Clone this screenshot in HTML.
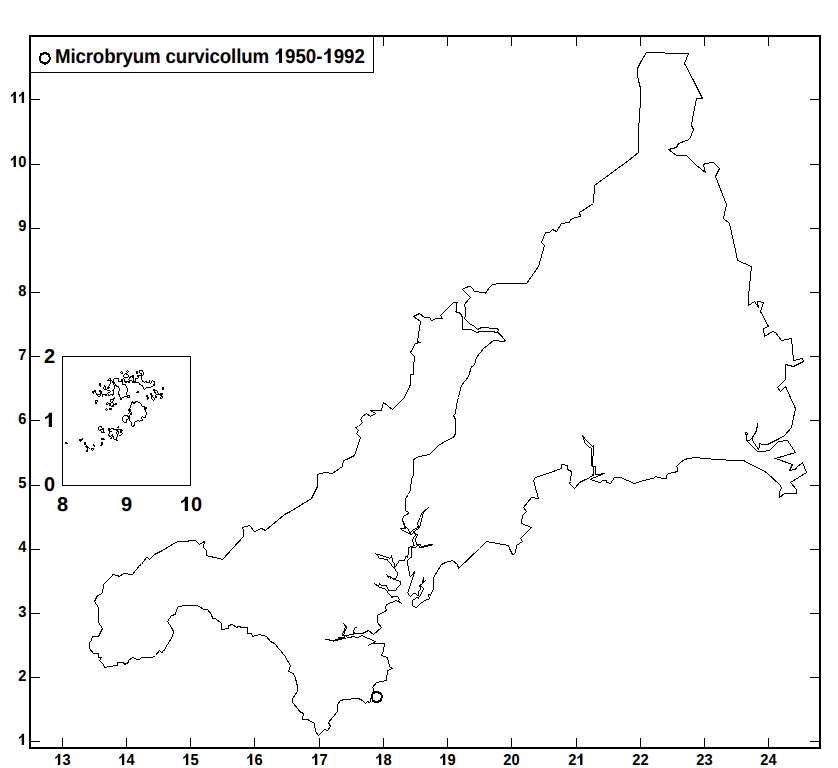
<!DOCTYPE html>
<html><head><meta charset="utf-8"><style>
html,body{margin:0;padding:0;background:#fff;width:838px;height:768px;overflow:hidden}
svg{position:absolute;left:0;top:0}
text{font-family:"Liberation Sans",sans-serif;font-weight:bold;fill:#000;text-rendering:geometricPrecision}
</style></head><body>
<svg width="838" height="768" viewBox="0 0 838 768">
<rect x="29" y="35" width="792" height="2"/><rect x="29" y="747" width="792" height="2"/><rect x="29" y="35" width="2" height="714"/><rect x="819" y="35" width="2" height="714"/><path d="M62.5 738V747 M62.5 37V46 M126.5 738V747 M126.5 37V46 M190.5 738V747 M190.5 37V46 M254.5 738V747 M254.5 37V46 M319.5 738V747 M319.5 37V46 M383.5 738V747 M383.5 37V46 M447.5 738V747 M447.5 37V46 M511.5 738V747 M511.5 37V46 M576.5 738V747 M576.5 37V46 M640.5 738V747 M640.5 37V46 M704.5 738V747 M704.5 37V46 M768.5 738V747 M768.5 37V46 M31 741.5H40 M810 741.5H819 M31 677.5H40 M810 677.5H819 M31 613.5H40 M810 613.5H819 M31 549.5H40 M810 549.5H819 M31 485.5H40 M810 485.5H819 M31 420.5H40 M810 420.5H819 M31 356.5H40 M810 356.5H819 M31 292.5H40 M810 292.5H819 M31 228.5H40 M810 228.5H819 M31 164.5H40 M810 164.5H819 M31 99.5H40 M810 99.5H819" stroke="#000" stroke-width="1" fill="none" shape-rendering="crispEdges"/>
<rect x="30.5" y="36.5" width="343" height="36" fill="#fff" stroke="#000" stroke-width="1" shape-rendering="crispEdges"/>
<rect x="62.5" y="356.5" width="128" height="129" fill="none" stroke="#000" stroke-width="1" shape-rendering="crispEdges"/>
<text transform="translate(62.50 765.00) scale(1 1.08)" style="font-size:14.67px">3</text><text transform="translate(126.50 765.00) scale(1 1.08)" style="font-size:14.67px">4</text><text transform="translate(190.50 765.00) scale(1 1.08)" style="font-size:14.67px">5</text><text transform="translate(254.50 765.00) scale(1 1.08)" style="font-size:14.67px">6</text><text transform="translate(319.50 765.00) scale(1 1.08)" style="font-size:14.67px">7</text><text transform="translate(383.50 765.00) scale(1 1.08)" style="font-size:14.67px">8</text><text transform="translate(447.50 765.00) scale(1 1.08)" style="font-size:14.67px">9</text><text transform="translate(503.34 765.00) scale(1 1.08)" style="font-size:14.67px">2</text><text transform="translate(511.50 765.00) scale(1 1.08)" style="font-size:14.67px">0</text><text transform="translate(568.34 765.00) scale(1 1.08)" style="font-size:14.67px">2</text><text transform="translate(632.34 765.00) scale(1 1.08)" style="font-size:14.67px">2</text><text transform="translate(640.50 765.00) scale(1 1.08)" style="font-size:14.67px">2</text><text transform="translate(696.34 765.00) scale(1 1.08)" style="font-size:14.67px">2</text><text transform="translate(704.50 765.00) scale(1 1.08)" style="font-size:14.67px">3</text><text transform="translate(760.34 765.00) scale(1 1.08)" style="font-size:14.67px">2</text><text transform="translate(768.50 765.00) scale(1 1.08)" style="font-size:14.67px">4</text><text transform="translate(18.14 681.00) scale(1 1.08)" style="font-size:14.67px">2</text><text transform="translate(18.14 617.00) scale(1 1.08)" style="font-size:14.67px">3</text><text transform="translate(18.14 552.00) scale(1 1.08)" style="font-size:14.67px">4</text><text transform="translate(18.14 488.00) scale(1 1.08)" style="font-size:14.67px">5</text><text transform="translate(18.14 424.00) scale(1 1.08)" style="font-size:14.67px">6</text><text transform="translate(18.14 360.00) scale(1 1.08)" style="font-size:14.67px">7</text><text transform="translate(18.14 296.00) scale(1 1.08)" style="font-size:14.67px">8</text><text transform="translate(18.14 231.00) scale(1 1.08)" style="font-size:14.67px">9</text><text transform="translate(18.14 167.00) scale(1 1.08)" style="font-size:14.67px">0</text><text transform="translate(43.88 363.00) scale(1 1.0)" style="font-size:20px">2</text><text transform="translate(43.88 491.00) scale(1 1.0)" style="font-size:20px">0</text><text transform="translate(56.94 511.00) scale(1 1.0)" style="font-size:20px">8</text><text transform="translate(120.94 511.00) scale(1 1.0)" style="font-size:20px">9</text><text transform="translate(191.00 511.00) scale(1 1.0)" style="font-size:20px">0</text><text transform="translate(55 63) scale(1 1.0769)" style="font-size:18.67px" textLength="214.1" lengthAdjust="spacing">Microbryum curvicollum</text><text transform="translate(285.05 63) scale(1 1.0769)" style="font-size:18.67px">950-</text><text transform="translate(333.65 63) scale(1 1.0769)" style="font-size:18.67px">992</text>
<path d="M60.28 765.00 57.94 765.00 57.94 757.08 56.84 758.03 55.22 758.90 55.22 757.08 56.84 756.19 57.57 755.34 58.23 753.66 60.28 753.66Z M124.28 765.00 121.94 765.00 121.94 757.08 120.84 758.03 119.22 758.90 119.22 757.08 120.84 756.19 121.57 755.34 122.23 753.66 124.28 753.66Z M188.28 765.00 185.94 765.00 185.94 757.08 184.84 758.03 183.22 758.90 183.22 757.08 184.84 756.19 185.57 755.34 186.23 753.66 188.28 753.66Z M252.28 765.00 249.94 765.00 249.94 757.08 248.84 758.03 247.22 758.90 247.22 757.08 248.84 756.19 249.57 755.34 250.23 753.66 252.28 753.66Z M317.28 765.00 314.94 765.00 314.94 757.08 313.84 758.03 312.22 758.90 312.22 757.08 313.84 756.19 314.57 755.34 315.23 753.66 317.28 753.66Z M381.28 765.00 378.94 765.00 378.94 757.08 377.84 758.03 376.22 758.90 376.22 757.08 377.84 756.19 378.57 755.34 379.23 753.66 381.28 753.66Z M445.28 765.00 442.94 765.00 442.94 757.08 441.84 758.03 440.22 758.90 440.22 757.08 441.84 756.19 442.57 755.34 443.23 753.66 445.28 753.66Z M582.44 765.00 580.09 765.00 580.09 757.08 578.99 758.03 577.38 758.90 577.38 757.08 578.99 756.19 579.73 755.34 580.39 753.66 582.44 753.66Z M24.08 745.00 21.74 745.00 21.74 737.08 20.64 738.03 19.02 738.90 19.02 737.08 20.64 736.19 21.37 735.34 22.03 733.66 24.08 733.66Z M15.93 167.00 13.58 167.00 13.58 159.08 12.48 160.03 10.87 160.90 10.87 159.08 12.48 158.19 13.21 157.34 13.87 155.66 15.93 155.66Z M15.93 103.00 13.58 103.00 13.58 95.08 12.48 96.03 10.87 96.90 10.87 95.08 12.48 94.19 13.21 93.34 13.87 91.66 15.93 91.66Z M24.08 103.00 21.74 103.00 21.74 95.08 20.64 96.03 19.02 96.90 19.02 95.08 20.64 94.19 21.37 93.34 22.03 91.66 24.08 91.66Z M51.98 427.00 48.78 427.00 48.78 417.00 47.28 418.20 45.08 419.30 45.08 417.00 47.28 415.88 48.28 414.80 49.18 412.68 51.98 412.68Z M187.98 511.00 184.78 511.00 184.78 501.00 183.28 502.20 181.08 503.30 181.08 501.00 183.28 499.88 184.28 498.80 185.18 496.68 187.98 496.68Z M282.06 63.00 279.07 63.00 279.07 52.95 277.67 54.15 275.62 55.26 275.62 52.95 277.67 51.82 278.61 50.74 279.45 48.60 282.06 48.60Z M330.66 63.00 327.67 63.00 327.67 52.95 326.27 54.15 324.22 55.26 324.22 52.95 326.27 51.82 327.21 50.74 328.05 48.60 330.66 48.60Z" fill="#000"/>
<g fill="none" stroke="#000" stroke-width="1" shape-rendering="crispEdges">
<path d="M646.5 52.5 664.5 52.5 665.5 53.5 688.5 53.5 684.5 63.5 693.5 80.5 702.5 98.5 696.5 98.5 693.5 113.5 691.5 125.5 693.5 129.5 689.5 139.5 678.5 143.5 676.5 147.5 668.5 149.5 676.5 155.5 686.5 155.5 696.5 165.5 705.5 172.5 703.5 164.5 705.5 163.5 713.5 162.5 719.5 168.5 715.5 176.5 726.5 204.5 723.5 218.5 729.5 223.5 735.5 250.5 737.5 260.5 751.5 266.5 748.5 296.5 748.5 305.5 754.5 301.5 758.5 307.5 757.5 301.5 763.5 302.5 760.5 311.5 768.5 326.5 763.5 328.5 764.5 336.5 772.5 331.5 775.5 332.5 781.5 340.5 791.5 338.5 793.5 360.5 802.5 358.5 803.5 361.5 793.5 366.5 785.5 364.5 785.5 379.5 777.5 387.5 780.5 391.5 785.5 386.5 795.5 408.5 791.5 427.5 784.5 435.5 779.5 438.5 767.5 444.5 762.5 444.5 759.5 443.5 759.5 446.5 758.5 449.5 752.5 440.5 752.5 436.5 755.5 433.5 756.5 430.5 757.5 426.5 757.5 423.5 756.5 430.5 754.5 434.5 752.5 437.5 749.5 440.5 746.5 440.5 746.5 435.5 745.5 433.5 745.5 432.5 746.5 432.5 747.5 433.5 747.5 434.5 746.5 435.5 746.5 440.5 757.5 451.5 762.5 451.5 769.5 450.5 778.5 441.5 787.5 440.5 795.5 452.5 775.5 458.5 792.5 464.5 789.5 470.5 795.5 469.5 796.5 467.5 802.5 462.5 806.5 472.5 790.5 482.5 796.5 489.5 796.5 493.5 784.5 493.5 779.5 497.5 779.5 491.5 781.5 488.5 780.5 485.5 766.5 472.5 743.5 460.5 732.5 460.5 718.5 459.5 703.5 458.5 695.5 457.5 688.5 458.5 684.5 459.5 680.5 462.5 676.5 466.5 677.5 467.5 677.5 471.5 673.5 472.5 668.5 473.5 666.5 475.5 666.5 478.5 663.5 478.5 658.5 477.5 655.5 476.5 653.5 478.5 647.5 479.5 640.5 481.5 634.5 483.5 620.5 477.5 614.5 477.5 610.5 483.5 607.5 480.5 603.5 480.5 599.5 482.5 591.5 479.5 599.5 475.5 604.5 473.5 596.5 474.5 595.5 466.5 593.5 465.5 593.5 455.5 593.5 445.5 592.5 444.5 583.5 435.5 584.5 441.5 591.5 447.5 591.5 457.5 591.5 465.5 593.5 469.5 593.5 474.5 589.5 477.5 579.5 482.5 575.5 487.5 574.5 488.5 569.5 483.5 570.5 481.5 571.5 471.5 567.5 469.5 567.5 465.5 561.5 464.5 561.5 468.5 550.5 472.5 535.5 477.5 533.5 480.5 538.5 498.5 531.5 497.5 523.5 507.5 526.5 511.5 522.5 515.5 521.5 523.5 531.5 527.5 520.5 538.5 522.5 541.5 516.5 545.5 515.5 553.5 512.5 554.5 509.5 548.5 508.5 545.5 486.5 541.5 479.5 548.5 458.5 568.5 457.5 564.5 452.5 560.5 445.5 562.5 441.5 564.5 433.5 577.5 433.5 589.5 429.5 596.5 428.5 599.5 421.5 602.5 416.5 607.5 412.5 605.5 412.5 600.5 413.5 599.5 418.5 597.5 420.5 594.5 423.5 588.5 422.5 584.5 425.5 580.5 423.5 581.5 423.5 577.5 423.5 581.5 420.5 585.5 420.5 588.5 418.5 591.5 418.5 595.5 416.5 593.5 413.5 593.5 410.5 596.5 407.5 592.5 412.5 574.5 414.5 571.5 411.5 576.5 409.5 575.5 409.5 570.5 407.5 565.5 407.5 559.5 411.5 557.5 411.5 555.5 412.5 549.5 413.5 546.5 412.5 542.5 412.5 539.5 413.5 536.5 414.5 531.5 M411.5 555.5 412.5 551.5 411.5 547.5 414.5 547.5 420.5 546.5 423.5 546.5 427.5 545.5 432.5 544.5 423.5 546.5 420.5 546.5 418.5 544.5 416.5 544.5 415.5 541.5 415.5 537.5 416.5 534.5 414.5 530.5 416.5 528.5 418.5 526.5 417.5 524.5 417.5 522.5 420.5 517.5 421.5 513.5 428.5 507.5 423.5 512.5 422.5 515.5 421.5 520.5 420.5 524.5 418.5 527.5 415.5 529.5 413.5 530.5 412.5 531.5 410.5 534.5 408.5 533.5 402.5 530.5 400.5 528.5 405.5 527.5 404.5 524.5 402.5 520.5 402.5 518.5 404.5 515.5 407.5 514.5 408.5 512.5 405.5 510.5 405.5 505.5 405.5 498.5 408.5 494.5 410.5 489.5 411.5 479.5 413.5 474.5 413.5 467.5 413.5 460.5 414.5 458.5 419.5 456.5 429.5 454.5 438.5 445.5 446.5 440.5 453.5 437.5 455.5 433.5 455.5 419.5 453.5 415.5 455.5 413.5 456.5 405.5 457.5 400.5 458.5 397.5 461.5 385.5 468.5 376.5 471.5 366.5 474.5 365.5 476.5 357.5 483.5 348.5 487.5 345.5 493.5 340.5 503.5 341.5 505.5 340.5 497.5 331.5 498.5 330.5 497.5 328.5 489.5 328.5 488.5 327.5 481.5 327.5 477.5 329.5 474.5 326.5 469.5 323.5 464.5 318.5 464.5 317.5 465.5 316.5 465.5 307.5 464.5 306.5 464.5 304.5 M505.5 340.5 497.5 332.5 495.5 332.5 493.5 331.5 480.5 331.5 476.5 332.5 471.5 329.5 462.5 329.5 462.5 317.5 461.5 315.5 460.5 313.5 458.5 312.5 456.5 312.5 455.5 311.5 456.5 311.5 456.5 303.5 457.5 302.5 453.5 302.5 452.5 303.5 440.5 315.5 442.5 318.5 436.5 318.5 431.5 320.5 429.5 317.5 424.5 317.5 419.5 313.5 413.5 316.5 420.5 321.5 417.5 341.5 419.5 342.5 415.5 343.5 410.5 352.5 414.5 356.5 413.5 368.5 413.5 374.5 410.5 374.5 410.5 384.5 404.5 397.5 399.5 402.5 392.5 409.5 383.5 402.5 381.5 410.5 370.5 410.5 375.5 413.5 370.5 416.5 366.5 413.5 362.5 416.5 360.5 419.5 362.5 422.5 358.5 426.5 355.5 427.5 358.5 430.5 356.5 433.5 360.5 437.5 354.5 455.5 346.5 459.5 343.5 460.5 342.5 466.5 332.5 473.5 324.5 472.5 317.5 474.5 317.5 486.5 311.5 498.5 290.5 511.5 284.5 514.5 265.5 530.5 261.5 528.5 254.5 531.5 249.5 525.5 242.5 527.5 243.5 530.5 243.5 536.5 222.5 559.5 215.5 557.5 209.5 556.5 206.5 555.5 206.5 550.5 203.5 547.5 204.5 541.5 199.5 544.5 195.5 540.5 189.5 540.5 187.5 541.5 178.5 541.5 175.5 542.5 162.5 550.5 154.5 554.5 149.5 559.5 147.5 557.5 146.5 557.5 143.5 561.5 141.5 564.5 139.5 565.5 132.5 574.5 123.5 573.5 119.5 576.5 117.5 575.5 112.5 574.5 112.5 575.5 103.5 584.5 102.5 593.5 97.5 595.5 94.5 601.5 98.5 607.5 98.5 612.5 98.5 622.5 102.5 628.5 98.5 636.5 92.5 636.5 91.5 640.5 89.5 642.5 89.5 648.5 93.5 653.5 98.5 653.5 98.5 657.5 101.5 657.5 99.5 660.5 103.5 664.5 104.5 667.5 109.5 666.5 117.5 665.5 117.5 662.5 123.5 662.5 124.5 664.5 128.5 662.5 128.5 660.5 132.5 657.5 137.5 659.5 139.5 659.5 141.5 657.5 144.5 657.5 148.5 657.5 152.5 657.5 155.5 655.5 159.5 650.5 161.5 652.5 163.5 651.5 167.5 644.5 172.5 636.5 173.5 631.5 171.5 627.5 167.5 621.5 171.5 615.5 175.5 614.5 176.5 609.5 178.5 606.5 186.5 605.5 193.5 605.5 196.5 605.5 199.5 606.5 203.5 609.5 207.5 609.5 211.5 614.5 212.5 618.5 215.5 618.5 221.5 623.5 221.5 629.5 228.5 628.5 228.5 625.5 232.5 624.5 236.5 627.5 238.5 626.5 242.5 627.5 247.5 627.5 247.5 633.5 251.5 633.5 252.5 636.5 259.5 634.5 266.5 636.5 270.5 641.5 274.5 643.5 279.5 649.5 284.5 655.5 290.5 665.5 288.5 671.5 293.5 673.5 295.5 678.5 297.5 686.5 297.5 691.5 292.5 698.5 292.5 702.5 298.5 709.5 299.5 711.5 303.5 713.5 302.5 719.5 307.5 719.5 314.5 723.5 315.5 731.5 318.5 735.5 322.5 731.5 324.5 729.5 327.5 730.5 330.5 726.5 328.5 722.5 337.5 711.5 337.5 704.5 340.5 700.5 344.5 699.5 358.5 698.5 362.5 700.5 365.5 703.5 367.5 701.5 369.5 702.5 370.5 701.5 370.5 699.5 371.5 696.5 373.5 691.5 373.5 688.5 372.5 687.5 376.5 682.5 386.5 680.5 387.5 670.5 392.5 668.5 389.5 666.5 387.5 657.5 381.5 655.5 383.5 650.5 384.5 643.5 371.5 643.5 368.5 645.5 375.5 641.5 361.5 635.5 358.5 637.5 350.5 636.5 342.5 637.5 333.5 640.5 329.5 639.5 325.5 639.5 333.5 640.5 339.5 638.5 345.5 635.5 352.5 634.5 354.5 633.5 362.5 633.5 368.5 630.5 373.5 634.5 381.5 627.5 377.5 622.5 377.5 615.5 386.5 610.5 385.5 607.5 386.5 604.5 396.5 600.5 401.5 603.5 398.5 600.5 397.5 596.5 394.5 596.5 391.5 596.5 387.5 593.5 385.5 589.5 379.5 586.5 374.5 583.5 379.5 583.5 385.5 586.5 389.5 590.5 395.5 589.5 400.5 584.5 400.5 581.5 395.5 578.5 393.5 578.5 386.5 574.5 396.5 578.5 397.5 575.5 397.5 572.5 394.5 567.5 389.5 560.5 391.5 555.5 392.5 561.5 394.5 567.5 387.5 559.5 378.5 558.5 375.5 553.5 379.5 555.5 389.5 557.5 395.5 566.5 399.5 560.5 405.5 560.5 406.5 558.5 407.5 556.5 408.5 555.5 408.5 547.5 410.5 546.5 413.5 545.5 412.5 542.5 412.5 539.5 412.5 537.5 410.5 534.5 M464.5 306.5 464.5 304.5 468.5 299.5 470.5 297.5 462.5 289.5 463.5 288.5 466.5 287.5 468.5 286.5 470.5 286.5 472.5 288.5 474.5 291.5 478.5 291.5 479.5 292.5 484.5 292.5 485.5 293.5 486.5 291.5 489.5 287.5 492.5 284.5 500.5 283.5 526.5 283.5 538.5 266.5 544.5 245.5 541.5 242.5 545.5 232.5 549.5 232.5 552.5 229.5 556.5 231.5 561.5 223.5 569.5 222.5 570.5 219.5 575.5 217.5 580.5 216.5 579.5 212.5 593.5 203.5 594.5 185.5 628.5 160.5 638.5 152.5 638.5 130.5 640.5 100.5 640.5 88.5 638.5 80.5 637.5 74.5 637.5 68.5 640.5 62.5 646.5 52.5 M354.5 633.5 353.5 631.5 354.5 628.5 357.5 626.5 M345.5 635.5 343.5 633.5 344.5 631.5 346.5 627.5 345.5 625.5 343.5 622.5"/>
</g>
<g shape-rendering="crispEdges"><rect x="402" y="524" width="34" height="24" fill="#fff"/><path d="M403 524h2v1h-2zM417 524h1v1h-1zM420 524h1v1h-1zM404 525h1v1h-1zM418 525h1v1h-1zM420 525h1v1h-1zM404 526h2v1h-2zM417 526h3v1h-3zM404 527h3v1h-3zM417 527h3v1h-3zM402 528h4v1h-4zM407 528h1v1h-1zM415 528h2v1h-2zM418 528h1v1h-1zM408 529h1v1h-1zM413 529h2v1h-2zM416 529h2v1h-2zM402 530h2v1h-2zM408 530h1v1h-1zM412 530h1v1h-1zM415 530h1v1h-1zM404 531h2v1h-2zM409 531h1v1h-1zM411 531h1v1h-1zM413 531h2v1h-2zM406 532h2v1h-2zM409 532h2v1h-2zM413 532h2v1h-2zM408 533h3v1h-3zM412 533h1v1h-1zM414 533h2v1h-2zM410 534h2v1h-2zM415 534h3v1h-3zM415 535h1v1h-1zM417 535h1v1h-1zM414 536h1v1h-1zM416 536h1v1h-1zM413 537h1v1h-1zM416 537h1v1h-1zM413 538h1v1h-1zM415 538h1v1h-1zM412 539h1v1h-1zM415 539h1v1h-1zM412 540h1v1h-1zM415 540h1v1h-1zM412 541h1v1h-1zM415 541h1v1h-1zM413 542h1v1h-1zM416 542h1v1h-1zM413 543h1v1h-1zM416 543h1v1h-1zM413 544h1v1h-1zM416 544h5v1h-5zM428 544h5v1h-5zM413 545h2v1h-2zM417 545h2v1h-2zM420 545h1v1h-1zM424 545h8v1h-8zM410 546h3v1h-3zM416 546h1v1h-1zM419 546h1v1h-1zM421 546h7v1h-7zM408 547h2v1h-2zM411 547h5v1h-5zM419 547h5v1h-5z" fill="#000"/><rect x="398" y="548" width="20" height="18" fill="#fff"/><path d="M408 548h1v1h-1zM411 548h1v1h-1zM408 549h1v1h-1zM411 549h1v1h-1zM408 550h1v1h-1zM411 550h1v1h-1zM408 551h1v1h-1zM411 551h1v1h-1zM408 552h1v1h-1zM411 552h1v1h-1zM408 553h1v1h-1zM411 553h1v1h-1zM408 554h1v1h-1zM411 554h1v1h-1zM407 555h1v1h-1zM411 555h1v1h-1zM405 556h3v1h-3zM411 556h1v1h-1zM405 557h1v1h-1zM407 557h1v1h-1zM410 557h2v1h-2zM405 558h1v1h-1zM409 558h1v1h-1zM404 559h1v1h-1zM408 559h1v1h-1zM399 560h6v1h-6zM407 560h1v1h-1zM398 561h1v1h-1zM407 561h1v1h-1zM398 562h1v1h-1zM407 562h1v1h-1zM407 563h1v1h-1zM407 564h1v1h-1zM407 565h1v1h-1z" fill="#000"/><rect x="372" y="551" width="26" height="21" fill="#fff"/><path d="M375 553h1v1h-1zM376 554h4v1h-4zM377 555h1v1h-1zM380 555h3v1h-3zM391 555h1v1h-1zM378 556h1v1h-1zM383 556h3v1h-3zM391 556h1v1h-1zM378 557h1v1h-1zM386 557h3v1h-3zM390 557h2v1h-2zM379 558h5v1h-5zM389 558h1v1h-1zM392 558h1v1h-1zM384 559h4v1h-4zM392 559h1v1h-1zM387 560h1v1h-1zM392 560h1v1h-1zM388 561h1v1h-1zM392 561h1v1h-1zM389 562h1v1h-1zM393 562h1v1h-1zM390 563h1v1h-1zM394 563h1v1h-1zM397 563h1v1h-1zM391 564h1v1h-1zM394 564h1v1h-1zM396 564h1v1h-1zM391 565h1v1h-1zM394 565h1v1h-1zM396 565h1v1h-1zM392 566h1v1h-1zM394 566h2v1h-2zM393 567h2v1h-2zM394 568h1v1h-1zM395 569h1v1h-1zM395 570h1v1h-1zM396 571h1v1h-1z" fill="#000"/><rect x="372" y="572" width="32" height="28" fill="#fff"/><path d="M397 572h1v1h-1zM397 573h1v1h-1zM386 574h1v1h-1zM397 574h1v1h-1zM387 575h1v1h-1zM397 575h1v1h-1zM387 576h4v1h-4zM396 576h1v1h-1zM388 577h1v1h-1zM390 577h2v1h-2zM396 577h1v1h-1zM390 578h1v1h-1zM392 578h4v1h-4zM393 579h3v1h-3zM396 580h3v1h-3zM399 581h2v1h-2zM400 582h1v1h-1zM374 583h1v1h-1zM379 583h1v1h-1zM400 583h1v1h-1zM375 584h2v1h-2zM379 584h2v1h-2zM400 584h1v1h-1zM376 585h3v1h-3zM381 585h6v1h-6zM399 585h1v1h-1zM378 586h1v1h-1zM386 586h1v1h-1zM398 586h1v1h-1zM379 587h3v1h-3zM387 587h1v1h-1zM397 587h1v1h-1zM382 588h3v1h-3zM387 588h1v1h-1zM396 588h1v1h-1zM385 589h1v1h-1zM388 589h1v1h-1zM396 589h1v1h-1zM386 590h1v1h-1zM388 590h8v1h-8zM387 591h1v1h-1zM387 592h1v1h-1zM388 593h1v1h-1zM389 594h1v1h-1zM390 595h1v1h-1zM391 596h7v1h-7zM391 597h2v1h-2zM398 597h1v1h-1zM398 598h1v1h-1zM399 599h1v1h-1z" fill="#000"/><rect x="404" y="566" width="26" height="42" fill="#fff"/><path d="M408 566h1v1h-1zM408 567h1v1h-1zM408 568h1v1h-1zM408 569h1v1h-1zM408 570h1v1h-1zM409 571h1v1h-1zM414 571h1v1h-1zM409 572h1v1h-1zM413 572h2v1h-2zM409 573h1v1h-1zM413 573h2v1h-2zM409 574h1v1h-1zM412 574h2v1h-2zM409 575h1v1h-1zM411 575h1v1h-1zM413 575h1v1h-1zM410 576h1v1h-1zM413 576h1v1h-1zM412 577h1v1h-1zM423 577h1v1h-1zM412 578h1v1h-1zM423 578h1v1h-1zM412 579h1v1h-1zM423 579h1v1h-1zM411 580h1v1h-1zM422 580h2v1h-2zM425 580h1v1h-1zM411 581h1v1h-1zM422 581h3v1h-3zM411 582h1v1h-1zM422 582h2v1h-2zM410 583h1v1h-1zM422 583h1v1h-1zM410 584h1v1h-1zM420 584h2v1h-2zM410 585h1v1h-1zM419 585h2v1h-2zM409 586h1v1h-1zM419 586h3v1h-3zM409 587h1v1h-1zM420 587h1v1h-1zM422 587h1v1h-1zM409 588h1v1h-1zM420 588h1v1h-1zM423 588h1v1h-1zM408 589h1v1h-1zM420 589h1v1h-1zM423 589h1v1h-1zM408 590h1v1h-1zM419 590h1v1h-1zM422 590h1v1h-1zM408 591h1v1h-1zM418 591h1v1h-1zM422 591h1v1h-1zM407 592h1v1h-1zM418 592h1v1h-1zM421 592h1v1h-1zM408 593h1v1h-1zM413 593h3v1h-3zM418 593h1v1h-1zM421 593h1v1h-1zM408 594h1v1h-1zM412 594h1v1h-1zM416 594h1v1h-1zM418 594h1v1h-1zM420 594h1v1h-1zM428 594h2v1h-2zM409 595h1v1h-1zM411 595h1v1h-1zM417 595h2v1h-2zM420 595h1v1h-1zM428 595h1v1h-1zM410 596h1v1h-1zM419 596h1v1h-1zM428 596h1v1h-1zM416 597h3v1h-3zM429 597h1v1h-1zM415 598h1v1h-1zM418 598h1v1h-1zM429 598h1v1h-1zM413 599h2v1h-2zM426 599h3v1h-3zM412 600h1v1h-1zM424 600h2v1h-2zM412 601h1v1h-1zM423 601h1v1h-1zM412 602h1v1h-1zM421 602h2v1h-2zM412 603h1v1h-1zM420 603h1v1h-1zM412 604h1v1h-1zM419 604h1v1h-1zM412 605h1v1h-1zM418 605h1v1h-1zM413 606h2v1h-2zM417 606h1v1h-1zM415 607h2v1h-2z" fill="#000"/><rect x="322" y="621" width="31" height="22" fill="#fff"/><path d="M343 623h1v1h-1zM344 624h1v1h-1zM344 625h2v1h-2zM345 626h2v1h-2zM345 627h2v1h-2zM344 628h1v1h-1zM346 628h1v1h-1zM344 629h2v1h-2zM344 630h2v1h-2zM343 631h2v1h-2zM343 632h2v1h-2zM342 633h1v1h-1zM344 633h1v1h-1zM342 634h2v1h-2zM349 634h4v1h-4zM342 635h7v1h-7zM344 636h1v1h-1zM346 636h1v1h-1zM351 636h2v1h-2zM338 637h7v1h-7zM347 637h5v1h-5zM338 638h8v1h-8zM325 639h5v1h-5zM335 639h7v1h-7zM329 640h9v1h-9zM333 641h1v1h-1z" fill="#000"/><rect x="581" y="434" width="17" height="32" fill="#fff"/><path d="M582 435h1v1h-1zM582 436h2v1h-2zM583 437h2v1h-2zM583 438h2v1h-2zM583 439h1v1h-1zM585 439h1v1h-1zM584 440h1v1h-1zM586 440h1v1h-1zM584 441h1v1h-1zM587 441h1v1h-1zM584 442h1v1h-1zM588 442h1v1h-1zM585 443h1v1h-1zM589 443h1v1h-1zM586 444h1v1h-1zM590 444h1v1h-1zM587 445h1v1h-1zM591 445h1v1h-1zM593 445h1v1h-1zM588 446h1v1h-1zM592 446h2v1h-2zM589 447h2v1h-2zM593 447h1v1h-1zM591 448h1v1h-1zM593 448h1v1h-1zM591 449h1v1h-1zM593 449h1v1h-1zM591 450h1v1h-1zM593 450h1v1h-1zM591 451h1v1h-1zM593 451h1v1h-1zM591 452h1v1h-1zM593 452h1v1h-1zM591 453h1v1h-1zM593 453h1v1h-1zM591 454h1v1h-1zM593 454h1v1h-1zM591 455h1v1h-1zM593 455h1v1h-1zM591 456h2v1h-2zM591 457h2v1h-2zM591 458h2v1h-2zM591 459h2v1h-2zM591 460h2v1h-2zM591 461h2v1h-2zM591 462h2v1h-2zM591 463h2v1h-2zM591 464h2v1h-2zM591 465h2v1h-2z" fill="#000"/><rect x="586" y="466" width="24" height="18" fill="#fff"/><path d="M592 466h4v1h-4zM593 467h1v1h-1zM595 467h1v1h-1zM593 468h1v1h-1zM595 468h1v1h-1zM593 469h1v1h-1zM595 469h1v1h-1zM593 470h1v1h-1zM595 470h1v1h-1zM593 471h1v1h-1zM595 471h1v1h-1zM593 472h1v1h-1zM595 472h1v1h-1zM593 473h1v1h-1zM595 473h1v1h-1zM601 473h4v1h-4zM592 474h2v1h-2zM595 474h8v1h-8zM592 475h2v1h-2zM598 475h3v1h-3zM590 476h2v1h-2zM596 476h2v1h-2zM589 477h1v1h-1zM593 477h3v1h-3zM587 478h2v1h-2zM591 478h2v1h-2zM586 479h1v1h-1zM590 479h2v1h-2zM592 480h3v1h-3zM602 480h5v1h-5zM595 481h3v1h-3zM601 481h1v1h-1zM606 481h1v1h-1zM598 482h3v1h-3zM606 482h3v1h-3zM609 483h1v1h-1z" fill="#000"/></g>
<path d="M127 370h1v1h-1zM139 370h4v1h-4zM121 371h1v1h-1zM126 371h1v1h-1zM128 371h1v1h-1zM136 371h2v1h-2zM139 371h1v1h-1zM142 371h1v1h-1zM120 372h1v1h-1zM122 372h1v1h-1zM127 372h1v1h-1zM136 372h2v1h-2zM139 372h1v1h-1zM143 372h1v1h-1zM121 373h2v1h-2zM125 373h2v1h-2zM136 373h2v1h-2zM140 373h2v1h-2zM143 373h1v1h-1zM124 374h1v1h-1zM126 374h2v1h-2zM141 374h1v1h-1zM143 374h1v1h-1zM123 375h1v1h-1zM128 375h1v1h-1zM132 375h2v1h-2zM137 375h6v1h-6zM123 376h1v1h-1zM128 376h1v1h-1zM130 376h4v1h-4zM137 376h2v1h-2zM141 376h1v1h-1zM124 377h4v1h-4zM129 377h2v1h-2zM132 377h2v1h-2zM138 377h1v1h-1zM141 377h1v1h-1zM109 378h2v1h-2zM114 378h5v1h-5zM123 378h1v1h-1zM129 378h1v1h-1zM133 378h1v1h-1zM135 378h3v1h-3zM141 378h1v1h-1zM108 379h1v1h-1zM110 379h1v1h-1zM113 379h1v1h-1zM118 379h1v1h-1zM121 379h2v1h-2zM124 379h1v1h-1zM128 379h1v1h-1zM133 379h1v1h-1zM135 379h1v1h-1zM141 379h1v1h-1zM107 380h5v1h-5zM113 380h1v1h-1zM118 380h1v1h-1zM121 380h2v1h-2zM124 380h1v1h-1zM129 380h3v1h-3zM133 380h1v1h-1zM135 380h1v1h-1zM142 380h1v1h-1zM149 380h1v1h-1zM152 380h1v1h-1zM110 381h1v1h-1zM112 381h2v1h-2zM118 381h5v1h-5zM124 381h6v1h-6zM132 381h4v1h-4zM142 381h2v1h-2zM145 381h2v1h-2zM149 381h1v1h-1zM151 381h1v1h-1zM153 381h2v1h-2zM110 382h1v1h-1zM112 382h3v1h-3zM122 382h1v1h-1zM125 382h2v1h-2zM128 382h2v1h-2zM132 382h7v1h-7zM144 382h1v1h-1zM146 382h4v1h-4zM151 382h1v1h-1zM154 382h1v1h-1zM99 383h2v1h-2zM110 383h1v1h-1zM113 383h2v1h-2zM122 383h1v1h-1zM139 383h1v1h-1zM150 383h1v1h-1zM154 383h1v1h-1zM99 384h2v1h-2zM109 384h1v1h-1zM113 384h1v1h-1zM115 384h1v1h-1zM122 384h4v1h-4zM139 384h2v1h-2zM153 384h2v1h-2zM99 385h2v1h-2zM104 385h1v1h-1zM109 385h1v1h-1zM114 385h3v1h-3zM125 385h1v1h-1zM141 385h2v1h-2zM153 385h2v1h-2zM100 386h1v1h-1zM104 386h2v1h-2zM108 386h1v1h-1zM114 386h1v1h-1zM116 386h3v1h-3zM126 386h1v1h-1zM142 386h1v1h-1zM151 386h2v1h-2zM103 387h1v1h-1zM105 387h1v1h-1zM107 387h3v1h-3zM114 387h1v1h-1zM118 387h1v1h-1zM126 387h1v1h-1zM143 387h1v1h-1zM146 387h5v1h-5zM162 387h2v1h-2zM103 388h1v1h-1zM105 388h1v1h-1zM107 388h2v1h-2zM114 388h1v1h-1zM119 388h1v1h-1zM127 388h1v1h-1zM143 388h1v1h-1zM145 388h1v1h-1zM162 388h2v1h-2zM104 389h3v1h-3zM113 389h1v1h-1zM119 389h1v1h-1zM127 389h1v1h-1zM144 389h1v1h-1zM153 389h2v1h-2zM162 389h2v1h-2zM94 390h2v1h-2zM99 390h2v1h-2zM107 390h3v1h-3zM112 390h2v1h-2zM119 390h1v1h-1zM127 390h1v1h-1zM153 390h4v1h-4zM92 391h4v1h-4zM99 391h3v1h-3zM110 391h1v1h-1zM113 391h1v1h-1zM118 391h1v1h-1zM127 391h1v1h-1zM137 391h2v1h-2zM154 391h1v1h-1zM157 391h1v1h-1zM92 392h2v1h-2zM95 392h1v1h-1zM100 392h2v1h-2zM108 392h2v1h-2zM113 392h1v1h-1zM118 392h1v1h-1zM126 392h1v1h-1zM136 392h3v1h-3zM154 392h2v1h-2zM157 392h1v1h-1zM93 393h1v1h-1zM96 393h1v1h-1zM100 393h2v1h-2zM107 393h1v1h-1zM113 393h1v1h-1zM118 393h1v1h-1zM126 393h1v1h-1zM150 393h2v1h-2zM155 393h1v1h-1zM158 393h1v1h-1zM160 393h3v1h-3zM96 394h5v1h-5zM102 394h5v1h-5zM108 394h1v1h-1zM110 394h4v1h-4zM118 394h2v1h-2zM126 394h1v1h-1zM150 394h2v1h-2zM156 394h7v1h-7zM97 395h1v1h-1zM100 395h1v1h-1zM102 395h1v1h-1zM105 395h2v1h-2zM108 395h2v1h-2zM112 395h1v1h-1zM119 395h1v1h-1zM127 395h3v1h-3zM146 395h2v1h-2zM151 395h2v1h-2zM155 395h1v1h-1zM160 395h2v1h-2zM98 396h2v1h-2zM102 396h1v1h-1zM119 396h1v1h-1zM124 396h4v1h-4zM129 396h1v1h-1zM146 396h2v1h-2zM151 396h2v1h-2zM155 396h2v1h-2zM161 396h2v1h-2zM114 397h1v1h-1zM120 397h1v1h-1zM122 397h2v1h-2zM127 397h3v1h-3zM147 397h2v1h-2zM151 397h1v1h-1zM153 397h1v1h-1zM155 397h2v1h-2zM160 397h1v1h-1zM162 397h1v1h-1zM113 398h2v1h-2zM120 398h2v1h-2zM147 398h2v1h-2zM151 398h1v1h-1zM154 398h1v1h-1zM160 398h2v1h-2zM110 399h4v1h-4zM120 399h2v1h-2zM147 399h1v1h-1zM152 399h1v1h-1zM154 399h1v1h-1zM95 400h3v1h-3zM110 400h1v1h-1zM113 400h1v1h-1zM153 400h1v1h-1zM95 401h1v1h-1zM97 401h1v1h-1zM110 401h1v1h-1zM112 401h1v1h-1zM132 401h1v1h-1zM135 401h3v1h-3zM95 402h2v1h-2zM107 402h1v1h-1zM111 402h2v1h-2zM131 402h5v1h-5zM138 402h2v1h-2zM95 403h2v1h-2zM106 403h1v1h-1zM108 403h3v1h-3zM113 403h1v1h-1zM115 403h2v1h-2zM131 403h1v1h-1zM133 403h2v1h-2zM140 403h1v1h-1zM106 404h2v1h-2zM109 404h2v1h-2zM113 404h4v1h-4zM131 404h1v1h-1zM141 404h1v1h-1zM109 405h2v1h-2zM112 405h2v1h-2zM130 405h1v1h-1zM141 405h1v1h-1zM111 406h3v1h-3zM130 406h1v1h-1zM142 406h3v1h-3zM130 407h1v1h-1zM144 407h3v1h-3zM106 408h1v1h-1zM109 408h3v1h-3zM129 408h1v1h-1zM144 408h3v1h-3zM105 409h1v1h-1zM107 409h1v1h-1zM109 409h3v1h-3zM128 409h3v1h-3zM144 409h2v1h-2zM106 410h1v1h-1zM128 410h3v1h-3zM145 410h1v1h-1zM129 411h2v1h-2zM145 411h1v1h-1zM129 412h1v1h-1zM131 412h1v1h-1zM146 412h1v1h-1zM128 413h1v1h-1zM130 413h2v1h-2zM146 413h1v1h-1zM130 414h2v1h-2zM146 414h1v1h-1zM124 415h4v1h-4zM129 415h1v1h-1zM145 415h1v1h-1zM123 416h1v1h-1zM127 416h3v1h-3zM142 416h1v1h-1zM145 416h1v1h-1zM122 417h1v1h-1zM128 417h2v1h-2zM141 417h1v1h-1zM143 417h3v1h-3zM122 418h1v1h-1zM128 418h2v1h-2zM141 418h1v1h-1zM122 419h1v1h-1zM126 419h2v1h-2zM129 419h1v1h-1zM142 419h1v1h-1zM122 420h1v1h-1zM126 420h1v1h-1zM129 420h1v1h-1zM137 420h2v1h-2zM140 420h3v1h-3zM123 421h1v1h-1zM126 421h1v1h-1zM130 421h1v1h-1zM135 421h2v1h-2zM139 421h1v1h-1zM124 422h3v1h-3zM131 422h1v1h-1zM134 422h1v1h-1zM131 423h1v1h-1zM134 423h1v1h-1zM131 424h1v1h-1zM134 424h1v1h-1zM131 425h1v1h-1zM133 425h2v1h-2zM99 426h3v1h-3zM118 426h1v1h-1zM132 426h2v1h-2zM98 427h1v1h-1zM101 427h1v1h-1zM117 427h2v1h-2zM98 428h1v1h-1zM102 428h2v1h-2zM108 428h2v1h-2zM111 428h3v1h-3zM98 429h1v1h-1zM100 429h4v1h-4zM108 429h3v1h-3zM113 429h9v1h-9zM99 430h2v1h-2zM103 430h1v1h-1zM108 430h2v1h-2zM116 430h2v1h-2zM120 430h3v1h-3zM101 431h1v1h-1zM103 431h1v1h-1zM109 431h3v1h-3zM117 431h2v1h-2zM120 431h2v1h-2zM101 432h4v1h-4zM109 432h1v1h-1zM116 432h1v1h-1zM118 432h1v1h-1zM120 432h2v1h-2zM109 433h1v1h-1zM116 433h1v1h-1zM118 433h1v1h-1zM122 433h1v1h-1zM108 434h1v1h-1zM112 434h1v1h-1zM117 434h1v1h-1zM121 434h1v1h-1zM108 435h2v1h-2zM111 435h2v1h-2zM117 435h1v1h-1zM119 435h2v1h-2zM109 436h2v1h-2zM112 436h2v1h-2zM117 436h1v1h-1zM111 437h1v1h-1zM113 437h1v1h-1zM116 437h1v1h-1zM82 438h1v1h-1zM101 438h3v1h-3zM110 438h2v1h-2zM113 438h1v1h-1zM116 438h1v1h-1zM79 439h4v1h-4zM101 439h4v1h-4zM114 439h3v1h-3zM79 440h3v1h-3zM116 440h2v1h-2zM80 441h1v1h-1zM65 442h2v1h-2zM84 442h2v1h-2zM101 442h2v1h-2zM65 443h3v1h-3zM84 443h2v1h-2zM101 443h2v1h-2zM84 444h2v1h-2zM93 444h1v1h-1zM101 444h2v1h-2zM86 445h1v1h-1zM93 445h2v1h-2zM100 445h2v1h-2zM85 446h3v1h-3zM94 446h1v1h-1zM86 447h3v1h-3zM87 448h1v1h-1zM89 448h1v1h-1zM91 448h3v1h-3zM87 449h1v1h-1zM91 449h1v1h-1zM93 449h1v1h-1zM86 450h2v1h-2zM92 450h1v1h-1zM86 451h2v1h-2z" fill="#000" shape-rendering="crispEdges"/>
<path d="M43 52h4v1h-4zM40 53h9v1h-9zM40 54h4v1h-4zM46 54h4v1h-4zM40 55h2v1h-2zM48 55h2v1h-2zM39 56h2v1h-2zM48 56h2v1h-2zM39 57h2v1h-2zM49 57h2v1h-2zM39 58h2v1h-2zM49 58h2v1h-2zM39 59h2v1h-2zM49 59h2v1h-2zM39 60h2v1h-2zM48 60h2v1h-2zM40 61h3v1h-3zM47 61h3v1h-3zM40 62h9v1h-9zM42 63h6v1h-6zM44 64h2v1h-2zM373 691h6v1h-6zM372 692h9v1h-9zM372 693h3v1h-3zM378 693h4v1h-4zM371 694h2v1h-2zM380 694h2v1h-2zM371 695h2v1h-2zM381 695h2v1h-2zM371 696h2v1h-2zM381 696h2v1h-2zM371 697h2v1h-2zM381 697h2v1h-2zM371 698h2v1h-2zM380 698h2v1h-2zM372 699h1v1h-1zM380 699h2v1h-2zM372 700h3v1h-3zM378 700h4v1h-4zM372 701h9v1h-9zM374 702h5v1h-5z" fill="#000" shape-rendering="crispEdges"/>
</svg>
</body></html>
